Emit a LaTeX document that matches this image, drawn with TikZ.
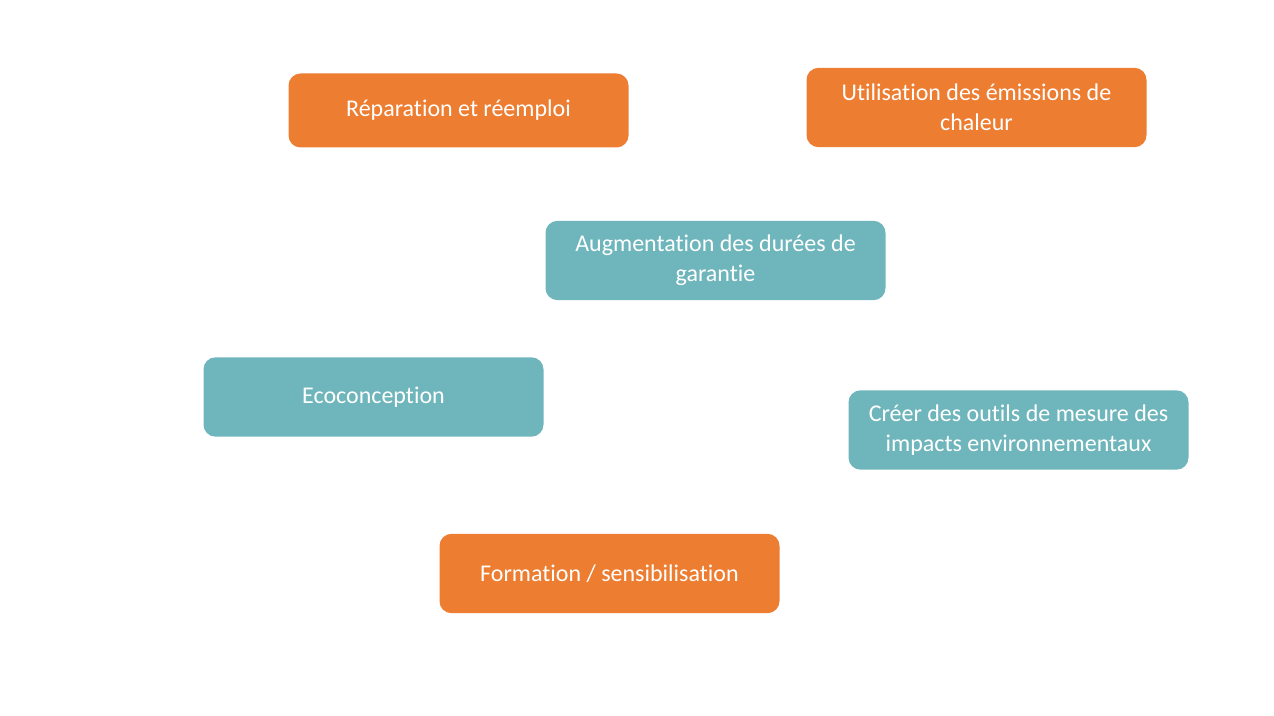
\documentclass[tikz,border=0pt]{standalone}
\usepackage{fontspec}
\setmainfont{Carlito}[Ligatures=NoCommon]
\definecolor{boxorange}{HTML}{ED7D31}
\definecolor{boxteal}{HTML}{6FB6BC}
\begin{document}
\begin{tikzpicture}[x=0.75pt, y=-0.75pt,
		action/.style = {rounded corners=9pt, text=white, align=center,
			minimum width=255pt, minimum height=59.5pt, inner sep=0pt,
			font=\fontsize{18}{22.5}\selectfont},
		hot/.style = {action, fill=boxorange},
		cool/.style = {action, fill=boxteal}]

		\useasboundingbox (0,0) rectangle (1274,716);

		\node[hot, minimum height=55.5pt] (rep) at (458.5,110.5) {Réparation et réemploi};
		\node[hot] (chal) at (976.5,107.5) {Utilisation des émissions de\\chaleur};
		\node[cool] (gar) at (715.5,260.5) {Augmentation des durées de\\garantie};
		\node[cool] (eco) at (373.5,397) {Ecoconception};
		\node[cool] (mes) at (1018.5,430) {Créer des outils de mesure des\\impacts environnementaux};
		\node[hot] (form) at (609.5,573.5) {Formation / sensibilisation};
	\end{tikzpicture}
\end{document}
